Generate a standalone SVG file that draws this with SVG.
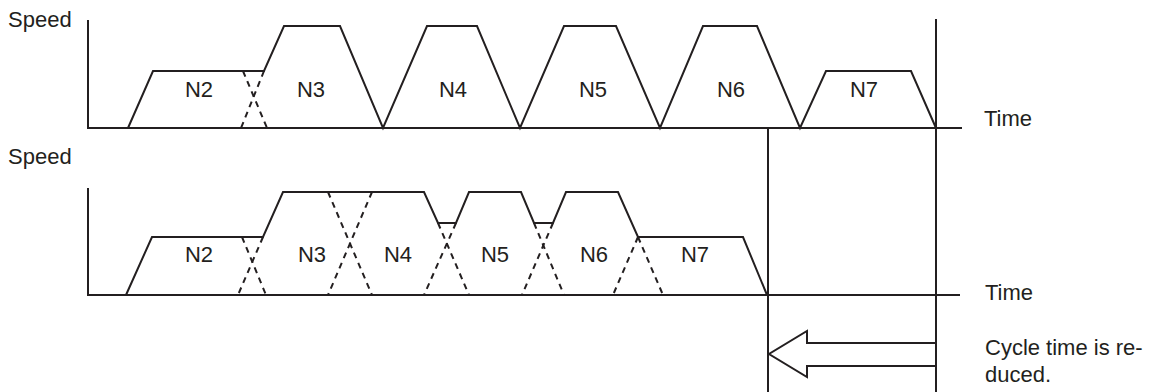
<svg xmlns="http://www.w3.org/2000/svg" width="1165" height="392" viewBox="0 0 1165 392">
<style>
.ln{fill:none;stroke:#231f20;stroke-width:2;stroke-linejoin:miter}
.ds{fill:none;stroke:#231f20;stroke-width:2;stroke-dasharray:6 5}
.t{font-family:"Liberation Sans",Arial,sans-serif;font-size:22px;fill:#231f20}
.c{text-anchor:middle}
</style>
<rect width="1165" height="392" fill="#fff"/>
<g id="top-chart">
  <g id="top-axes">
    <polyline class="ln" points="88,20 88,128 962,128"/>
    <text class="t" x="8" y="27">Speed</text>
    <text class="t" x="984" y="126">Time</text>
  </g>
  <g id="top-profiles">
    <polyline class="ln" points="128,128 153,71 264,71 284,26 340,26 383,128 427,26 477,26 520,128 564,26 616,26 660,128 703,26 757,26 800,128 826,71 911,71 936,128"/>
    <line class="ds" x1="243" y1="71" x2="267" y2="128"/>
    <line class="ds" x1="264" y1="71" x2="241" y2="128"/>
  </g>
  <g id="top-labels">
    <text class="t c" x="199" y="97">N2</text>
    <text class="t c" x="311" y="97">N3</text>
    <text class="t c" x="453" y="97">N4</text>
    <text class="t c" x="593" y="97">N5</text>
    <text class="t c" x="731" y="97">N6</text>
    <text class="t c" x="864" y="97">N7</text>
  </g>
</g>
<g id="bottom-chart">
  <g id="bottom-axes">
    <polyline class="ln" points="88,188 88,295 960,295"/>
    <text class="t" x="8" y="164">Speed</text>
    <text class="t" x="985" y="300">Time</text>
  </g>
  <g id="bottom-profiles">
    <polyline class="ln" points="126,295 152,237 263,237 283,192 424,192 438,223 456,223 469,192 521,192 534,223 553,223 566,192 618,192 638,237 743,237 767,295"/>
    <line class="ds" x1="242" y1="237" x2="266" y2="295"/>
    <line class="ds" x1="263" y1="237" x2="238" y2="295"/>
    <line class="ds" x1="328" y1="192" x2="372" y2="295"/>
    <line class="ds" x1="372" y1="192" x2="328" y2="295"/>
    <line class="ds" x1="438" y1="223" x2="469" y2="295"/>
    <line class="ds" x1="456" y1="223" x2="424" y2="295"/>
    <line class="ds" x1="534" y1="223" x2="564" y2="295"/>
    <line class="ds" x1="553" y1="223" x2="522" y2="295"/>
    <line class="ds" x1="638" y1="237" x2="663" y2="295"/>
    <line class="ds" x1="638" y1="237" x2="613" y2="295"/>
  </g>
  <g id="bottom-labels">
    <text class="t c" x="199" y="262">N2</text>
    <text class="t c" x="312" y="262">N3</text>
    <text class="t c" x="398" y="262">N4</text>
    <text class="t c" x="495" y="262">N5</text>
    <text class="t c" x="594" y="262">N6</text>
    <text class="t c" x="695" y="262">N7</text>
  </g>
</g>
<g id="connectors">
  <line class="ln" x1="768" y1="128" x2="768" y2="392"/>
  <line class="ln" x1="936" y1="19" x2="936" y2="392"/>
  <polygon id="reduction-arrow" class="ln" points="936,343 807,343 807,331 769,354 807,377 807,366 936,366"/>
</g>
<g id="note">
  <text class="t" x="985" y="355">Cycle time is re-</text>
  <text class="t" x="985" y="382">duced.</text>
</g>
</svg>
